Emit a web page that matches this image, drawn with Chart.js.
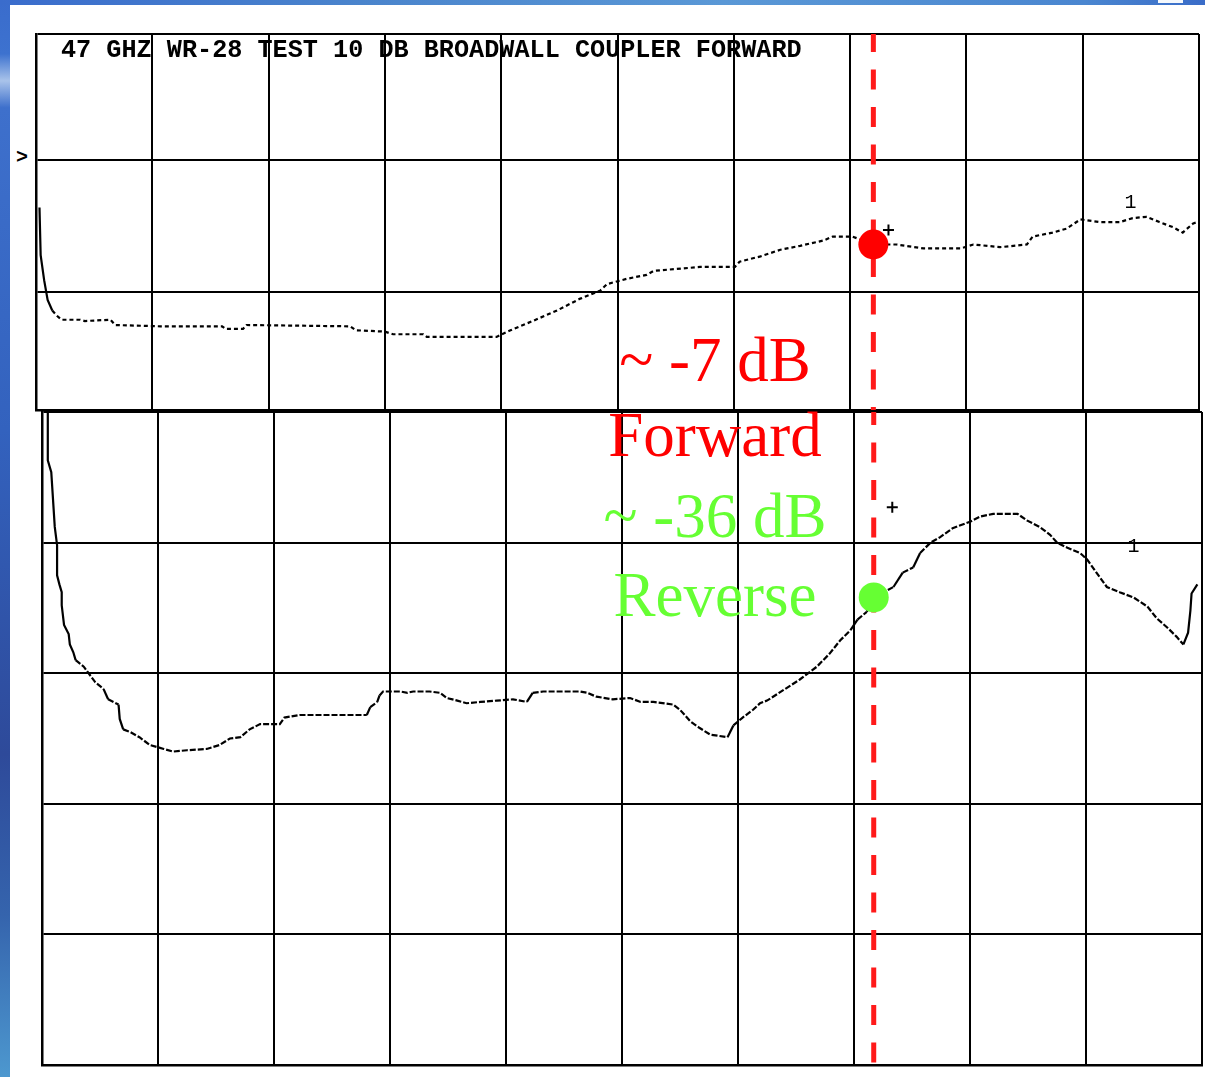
<!DOCTYPE html>
<html>
<head>
<meta charset="utf-8">
<script src="https://cdn.jsdelivr.net/npm/chart.js@4.4.0/dist/chart.umd.min.js"></script>
<style>
html,body{margin:0;padding:0;background:#fff;}
body{width:1205px;height:1077px;position:relative;overflow:hidden;}
#leftbar{position:absolute;left:0;top:0;width:10px;height:1077px;
  background:linear-gradient(180deg,#3a6ccc 0%,#3d72cf 5%,#a9c3ea 7.5%,#3e70cc 10%,#3362be 40%,#2e4a9a 70%,#3564ad 85%,#4d98cf 100%);}
#topbar{position:absolute;left:0;top:0;width:1205px;height:5px;
  background:linear-gradient(90deg,#3a6ccc 0%,#4a84cc 30%,#5a98d6 60%,#4a86d0 90%,#3a6cc8 100%);}
#nub{position:absolute;left:1158px;top:0;width:25px;height:3px;background:#f4f8fc;}
canvas{position:absolute;}
#cTop{left:34px;top:32px;}
#cBot{left:40px;top:410px;}
.t{position:absolute;white-space:nowrap;line-height:1;}
#title{left:61px;top:35.5px;font:bold 25.2px "Liberation Mono","Courier New",monospace;color:#000;}
#refmark{left:16px;top:146px;font:bold 20px "Liberation Mono","Courier New",monospace;color:#000;}
.ann{position:absolute;left:515px;width:400px;text-align:center;white-space:nowrap;line-height:1;
  font:63px "Liberation Serif","Times New Roman",serif;}
</style>
</head>
<body>
<div id="leftbar"></div>
<div id="topbar"></div>
<div id="nub"></div>
<canvas id="cTop" width="1167" height="380"></canvas>
<canvas id="cBot" width="1164" height="657"></canvas>
<div class="t" id="title">47 GHZ WR-28 TEST 10 DB BROADWALL COUPLER FORWARD</div>
<div class="t" id="refmark">&gt;</div>
<div class="ann" style="top:329px;color:#ff0000;line-height:1">~ -7 dB</div>
<div class="ann" style="top:404px;color:#ff0000;line-height:1">Forward</div>
<div class="ann" style="top:485px;color:#66ff33;line-height:1">~ -36 dB</div>
<div class="ann" style="top:564px;color:#66ff33;line-height:1">Reverse</div>
<script>
// ---- Data (x in horizontal divisions 0..10, y in dB) ----
// Forward coupling trace (top panel, 10 dB/div, reference 0 dB)
const fwdX = [0.03,0.04,0.07,0.10,0.14,0.18,0.22,0.38,0.42,0.64,0.68,1.07,1.60,1.63,1.78,1.81,2.70,2.75,3.00,3.07,3.33,3.36,3.96,4.08,4.27,4.48,4.68,4.85,4.91,5.08,5.25,5.31,5.71,6.01,6.05,6.23,6.40,6.57,6.77,6.85,7.02,7.20,7.40,7.63,7.95,8.06,8.29,8.52,8.57,8.74,8.86,8.98,9.15,9.32,9.43,9.55,9.66,9.78,9.86,9.95,9.99];
const fwdDb = [-3.6,-7.2,-9.1,-10.6,-11.4,-11.8,-12.1,-12.1,-12.2,-12.1,-12.5,-12.6,-12.6,-12.8,-12.8,-12.5,-12.6,-12.9,-13.0,-13.2,-13.2,-13.4,-13.4,-12.9,-12.2,-11.4,-10.5,-9.9,-9.4,-9.0,-8.7,-8.4,-8.1,-8.1,-7.7,-7.3,-6.8,-6.5,-6.1,-5.8,-5.8,-6.4,-6.4,-6.7,-6.7,-6.4,-6.6,-6.4,-5.8,-5.5,-5.2,-4.5,-4.7,-4.7,-4.4,-4.3,-4.7,-5.1,-5.5,-4.8,-4.7];
// Reverse (isolation) trace (bottom panel, 10 dB/div)
const revX = [0.05,0.05,0.08,0.10,0.11,0.13,0.13,0.15,0.17,0.17,0.19,0.23,0.24,0.27,0.29,0.36,0.41,0.46,0.53,0.57,0.66,0.67,0.70,0.76,0.84,0.93,1.05,1.13,1.25,1.42,1.53,1.62,1.71,1.79,1.88,2.05,2.09,2.22,2.80,2.83,2.89,2.91,2.94,3.09,3.15,3.20,3.34,3.43,3.49,3.58,3.66,3.78,3.92,4.06,4.18,4.23,4.32,4.49,4.64,4.70,4.78,4.92,5.07,5.16,5.27,5.44,5.50,5.59,5.67,5.76,5.91,5.96,6.04,6.13,6.19,6.25,6.39,6.53,6.68,6.79,6.88,6.97,7.03,7.11,7.17,7.34,7.42,7.51,7.57,7.66,7.74,7.85,8.00,8.09,8.20,8.41,8.49,8.60,8.69,8.75,8.84,8.95,9.01,9.09,9.18,9.29,9.41,9.53,9.61,9.70,9.78,9.84,9.88,9.90,9.91,9.96];
const revDb = [-20.0,-23.7,-24.6,-27.4,-28.8,-30.2,-32.5,-33.2,-33.8,-34.8,-36.3,-37.0,-37.8,-38.4,-39.0,-39.5,-40.1,-40.7,-41.2,-42.0,-42.4,-43.5,-44.3,-44.5,-44.9,-45.5,-45.8,-46.0,-45.9,-45.8,-45.5,-45.0,-44.9,-44.3,-43.9,-43.9,-43.4,-43.2,-43.2,-42.6,-42.2,-41.7,-41.4,-41.4,-41.5,-41.4,-41.4,-41.5,-41.9,-42.1,-42.3,-42.2,-42.1,-42.0,-42.2,-41.5,-41.4,-41.4,-41.4,-41.5,-41.8,-42.0,-41.9,-42.2,-42.2,-42.4,-42.8,-43.7,-44.2,-44.7,-44.9,-44.0,-43.4,-42.8,-42.3,-42.1,-41.3,-40.5,-39.5,-38.5,-37.5,-36.7,-35.9,-35.3,-34.2,-33.4,-32.3,-31.9,-30.8,-30.0,-29.6,-28.9,-28.4,-28.0,-27.8,-27.8,-28.3,-28.8,-29.4,-30.0,-30.4,-30.8,-31.3,-32.3,-33.4,-33.8,-34.2,-34.9,-35.8,-36.5,-37.2,-37.8,-36.9,-35.2,-33.9,-33.2];
// Marker (cursor) readings: [top panel, bottom panel]
const markerX  = [7.20, 7.17];
const markerDb = [-6.4, -34.2];
// Analyzer "+" symbols and trace number labels
const plusX  = [7.33, 7.33];
const plusDb = [-5.3, -27.3];
const traceLabelX  = [9.41, 9.41];
const traceLabelDb = [-3.2, -30.3];
const traceLabel   = ['1', '1'];
// Axis ranges (dB) and grid ticks
const topRange = [-18.94, 9.55];
const topTicks = [-10, 0];
const botRange = [-70, -20];
const xDivisions = [0,1,2,3,4,5,6,7,8,9,10];

// ---- helpers ----
function steepDash(flatDash){
  return ctx => {
    const dx = Math.abs(ctx.p1.x - ctx.p0.x), dy = Math.abs(ctx.p1.y - ctx.p0.y);
    return dy > dx * 1.5 ? [] : flatDash;
  };
}
const labelPlugin = {
  id: 'traceLabel',
  afterDatasetsDraw(chart, args, opts){
    const {ctx, scales:{x, y}} = chart;
    ctx.save();
    ctx.font = '20px "Liberation Mono", "Courier New", monospace';
    ctx.fillStyle = '#000';
    ctx.textAlign = 'center';
    ctx.textBaseline = 'middle';
    ctx.fillText(opts.text, x.getPixelForValue(opts.x), y.getPixelForValue(opts.y));
    ctx.restore();
  }
};
function gridAxis(extra){
  return Object.assign({
    type: 'linear',
    ticks: {display: false},
    grid: {color: '#000', lineWidth: 2, drawTicks: false},
    border: {color: '#000', width: 2.5}
  }, extra);
}
function makePanel(canvasId, idx, traceX, traceY, yMin, yMax, yTickVals, dashOffset, flatDash){
  return new Chart(document.getElementById(canvasId), {
    type: 'line',
    data: {
      datasets: [
        {label: 'Marker', data: [{x: markerX[idx], y: markerDb[idx]}], showLine: false,
         pointRadius: 15, pointBackgroundColor: idx === 0 ? '#ff0000' : '#66ff33', pointBorderWidth: 0,
         pointBorderColor: 'rgba(0,0,0,0)'},
        {label: 'Ref', data: [{x: plusX[idx], y: plusDb[idx]}], showLine: false,
         pointStyle: 'cross', pointRadius: 5.5, pointBorderColor: '#000', pointBorderWidth: 2},
        {label: 'Cursor', data: [{x: markerX[idx], y: yMax}, {x: markerX[idx], y: yMin}],
         borderColor: '#ff1a1a', borderWidth: 5, borderDash: [20, 17.5], borderDashOffset: dashOffset,
         borderCapStyle: 'butt', pointRadius: 0},
        {label: idx === 0 ? 'Forward' : 'Reverse', data: traceX.map((x, i) => ({x, y: traceY[i]})),
         borderColor: '#000', borderWidth: 2.2, pointRadius: 0, tension: 0,
         segment: {borderDash: steepDash(flatDash)}}
      ]
    },
    options: {
      responsive: false,
      animation: false,
      events: [],
      layout: {padding: 2, autoPadding: false},
      plugins: {
        legend: {display: false},
        tooltip: {enabled: false},
        traceLabel: {x: traceLabelX[idx], y: traceLabelDb[idx], text: traceLabel[idx]}
      },
      scales: {
        x: gridAxis({min: 0, max: 10,
          afterBuildTicks: s => { s.ticks = xDivisions.map(v => ({value: v})); }}),
        y: gridAxis({min: yMin, max: yMax,
          afterBuildTicks: s => { s.ticks = [yMin].concat(yTickVals, [yMax]).map(v => ({value: v})); }})
      }
    },
    plugins: [labelPlugin]
  });
}
const botTicks = [];
for (let v = botRange[0] + 10; v < botRange[1]; v += 10) botTicks.push(v);
makePanel('cTop', 0, fwdX, fwdDb, topRange[0], topRange[1], topTicks, 2, [4, 3]);
makePanel('cBot', 1, revX, revDb, botRange[0], botRange[1], botTicks, 7, [6, 2]);
</script>
</body>
</html>
